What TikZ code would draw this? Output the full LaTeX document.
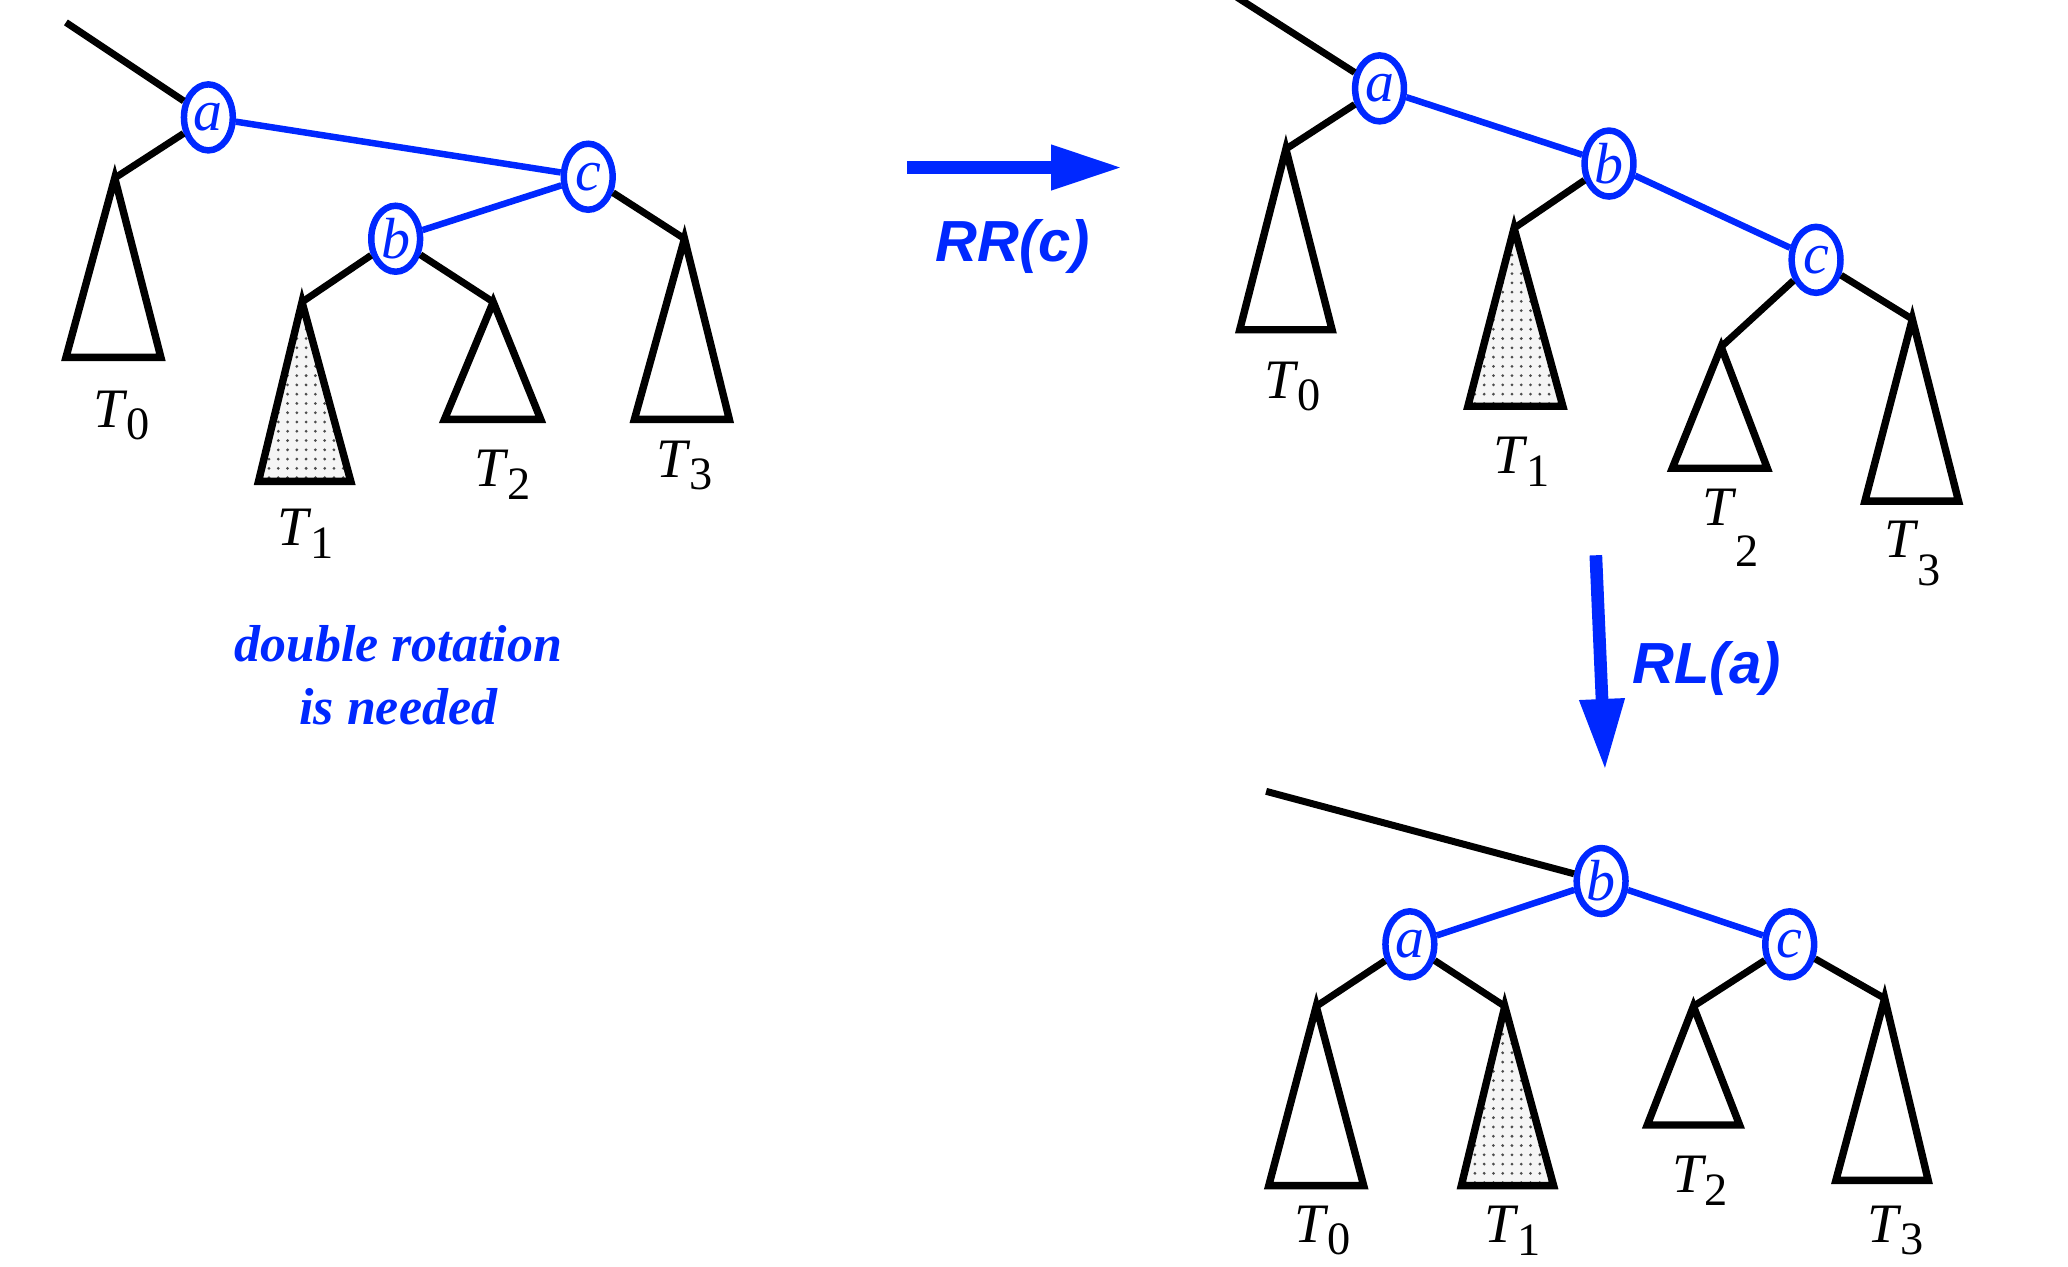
\documentclass[tikz,border=0pt]{standalone}
\usepackage{fontspec}
\setmainfont{Liberation Serif}
\setsansfont{Liberation Sans}
\usetikzlibrary{shapes.geometric,arrows.meta,patterns}
\definecolor{rotblue}{RGB}{0,40,255}
\pgfdeclarepatternformonly{sparsedots}{\pgfqpoint{-1pt}{-1pt}}{\pgfqpoint{1pt}{1pt}}{\pgfqpoint{2pt}{2pt}}{%
  \pgfpathcircle{\pgfqpoint{0pt}{0pt}}{0.33pt}\pgfusepath{fill}}
\newcommand{\subT}[2][0.5]{\textit{T}\kern-0.3pt\raisebox{-#1ex}{\fontsize{10}{10}\selectfont #2}}

\begin{document}
\begin{tikzpicture}[x=0.01cm, y=-0.01cm]
			\tikzstyle{key}=[ellipse,draw=rotblue,line width=1.4pt,minimum width=0.37cm,minimum height=0.5cm,inner sep=0pt,text=rotblue,font=\fontsize{12.5}{12.5}\selectfont]
			\tikzstyle{branch}=[draw=black,line width=1.5pt]
			\tikzstyle{path}=[draw=rotblue,line width=1.4pt]
			\tikzstyle{subtree}=[draw=black,line width=1.6pt,line join=miter]
			\tikzstyle{shaded}=[preaction={fill=gray!8},preaction={pattern=sparsedots,pattern color=black!70}]
			\tikzstyle{tlabel}=[font=\fontsize{12}{12}\selectfont]
			\tikzstyle{step arrow}=[draw=rotblue,line width=0.096cm,-{Triangle[length=0.54cm,width=0.32cm]}]
			\tikzstyle{step label}=[text=rotblue,font=\sffamily\bfseries\itshape\fontsize{12.5}{14}\selectfont]
			\useasboundingbox (0,0) rectangle (1568,960);

			% before: a -> c -> b
			\coordinate (Lroot) at (50,17);
			\coordinate (LT0) at (87,135);
			\coordinate (LT1) at (229,229);
			\coordinate (LT2) at (374,229);
			\coordinate (LT3) at (519,181);
			\node[key](La) at (158,89){\textit{a}};
			\node[key](Lc) at (446,134){\textit{c}};
			\node[key](Lb) at (300,181){\textit{b}};
			\path[branch] (Lroot) edge (La) (La) edge (LT0) (Lb) edge (LT1) (Lb) edge (LT2) (Lc) edge (LT3);
			\path[path] (La) edge (Lc) (Lc) edge (Lb);
			\draw[subtree] (LT0) -- (50,271) -- (122,271) -- cycle;
			\draw[subtree,shaded] (LT1) -- (196,365) -- (266,365) -- cycle;
			\draw[subtree] (LT2) -- (337,318) -- (410,318) -- cycle;
			\draw[subtree] (LT3) -- (481,318) -- (553,318) -- cycle;
			\node[tlabel](LT0lab) at (92,315){\subT{0}};
			\node[tlabel](LT1lab) at (232,405){\subT{1}};
			\node[tlabel](LT2lab) at (381,360){\subT{2}};
			\node[tlabel](LT3lab) at (519,353){\subT{3}};
			\node[text=rotblue,align=center,font=\bfseries\itshape\fontsize{11.2}{13.4}\selectfont](note) at (302,512){double rotation\\is needed};

			% RR(c)
			\coordinate (rrfrom) at (688,127);
			\coordinate (rrto) at (851,127);
			\draw[step arrow] (rrfrom) -- (rrto);
			\node[step label](rrlab) at (768,187){RR(c)};

			% after RR(c): a -> b -> c
			\coordinate (Mroot) at (938,-2);
			\coordinate (MT0) at (975,113);
			\coordinate (MT1) at (1148,173);
			\coordinate (MT2) at (1305,263);
			\coordinate (MT3) at (1450,242);
			\node[key](Ma) at (1046,67){\textit{a}};
			\node[key](Mb) at (1220,124){\textit{b}};
			\node[key](Mc) at (1377,197){\textit{c}};
			\path[branch] (Mroot) edge (Ma) (Ma) edge (MT0) (Mb) edge (MT1) (Mc) edge (MT2) (Mc) edge (MT3);
			\path[path] (Ma) edge (Mb) (Mb) edge (Mc);
			\draw[subtree] (MT0) -- (940,250) -- (1010,250) -- cycle;
			\draw[subtree,shaded] (MT1) -- (1113,308) -- (1185,308) -- cycle;
			\draw[subtree] (MT2) -- (1268,355) -- (1340,355) -- cycle;
			\draw[subtree] (MT3) -- (1414,380) -- (1485,380) -- cycle;
			\node[tlabel](MT0lab) at (980,293){\subT{0}};
			\node[tlabel](MT1lab) at (1154,350){\subT{1}};
			\node[tlabel](MT2lab) at (1312,400){\subT[1.6]{2}};
			\node[tlabel](MT3lab) at (1450,420){\subT[1.1]{3}};

			% RL(a)
			\coordinate (rlfrom) at (1210,421);
			\coordinate (rlto) at (1217,584);
			\draw[step arrow] (rlfrom) -- (rlto);
			\node[step label](rllab) at (1294,507){RL(a)};

			% balanced: b on top
			\coordinate (Broot) at (960,600);
			\coordinate (BT0) at (998,763);
			\coordinate (BT1) at (1141,763);
			\coordinate (BT2) at (1284,763);
			\coordinate (BT3) at (1429,757);
			\node[key](Bb) at (1214,668){\textit{b}};
			\node[key](Ba) at (1069,716){\textit{a}};
			\node[key](Bc) at (1357,716){\textit{c}};
			\path[branch] (Broot) edge (Bb) (Ba) edge (BT0) (Ba) edge (BT1) (Bc) edge (BT2) (Bc) edge (BT3);
			\path[path] (Bb) edge (Ba) (Bb) edge (Bc);
			\draw[subtree] (BT0) -- (962,899) -- (1034,899) -- cycle;
			\draw[subtree,shaded] (BT1) -- (1108,899) -- (1178,899) -- cycle;
			\draw[subtree] (BT2) -- (1249,853) -- (1319,853) -- cycle;
			\draw[subtree] (BT3) -- (1392,895) -- (1462,895) -- cycle;
			\node[tlabel](BT0lab) at (1003,933){\subT{0}};
			\node[tlabel](BT1lab) at (1147,933){\subT{1}};
			\node[tlabel](BT2lab) at (1289,895){\subT{2}};
			\node[tlabel](BT3lab) at (1437,933){\subT{3}};
\end{tikzpicture}
\end{document}
